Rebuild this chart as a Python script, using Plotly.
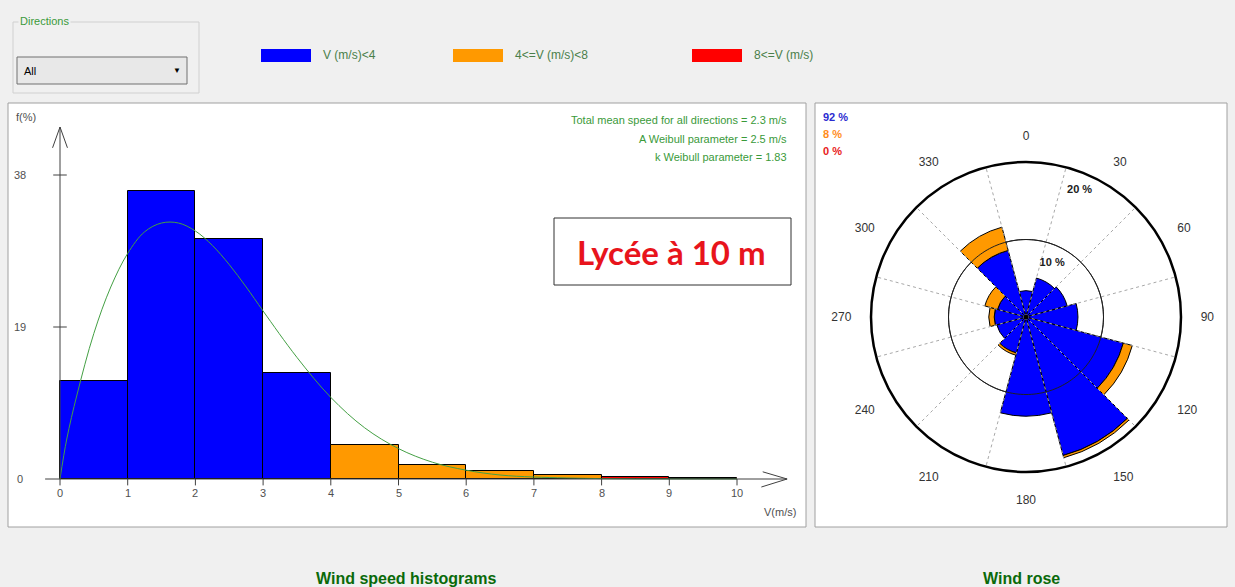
import plotly.graph_objects as go

W, H = 1235, 587
def X(px): return px / W
def Y(py): return 1 - py / H

# ---------------- data ----------------
speed_bins = [0.5, 1.5, 2.5, 3.5, 4.5, 5.5, 6.5, 7.5, 8.5, 9.5]
speed_freq = [12.2, 36.0, 30.0, 13.3, 4.3, 1.8, 1.0, 0.55, 0.2, 0.1]
speed_cls = [0, 0, 0, 0, 1, 1, 1, 1, 2, 2]
curve_v = [0, 0.1, 0.25, 0.5, 0.75, 1, 1.25, 1.5, 1.75, 2, 2.25, 2.5, 2.75, 3,
           3.5, 4, 4.5, 5, 5.5, 6, 6.5, 7, 8, 9, 10]
curve_f = [0, 5.0, 10.5, 18.2, 24.0, 28.2, 30.9, 32.0, 32.0, 31.0, 29.2, 26.8,
           24.0, 21.0, 15.2, 10.2, 6.4, 3.8, 2.1, 1.1, 0.5, 0.25, 0.05, 0.01, 0.0]
x_ticks = list(range(0, 11))
y_ticks = [0, 19, 38]

directions = [0, 30, 60, 90, 120, 150, 180, 210, 240, 270, 300, 330]
rose_low = [3.4, 5.2, 5.5, 6.7, 13.0, 18.5, 12.8, 4.8, 3.9, 4.1, 3.8, 8.9]
rose_mid = [0.0, 0.0, 0.0, 0.0, 1.2, 0.3, 0.0, 0.3, 0.0, 0.7, 1.7, 3.1]
rose_high = [0.0] * 12
rose_rings = [10, 20]
class_share = ["92 %", "8 %", "0 %"]

class_names = ["V (m/s)<4", "4<=V (m/s)<8", "8<=V (m/s)"]
class_colors = ["#0000ff", "#ff9900", "#ff0000"]
label_colors = ["#2a2ad0", "#ff8c1a", "#e82020"]

FONT = "Liberation Sans, Arial, sans-serif"
GREEN = "#3a9a3a"
TXT = "#505050"

fig = go.Figure()

# ---------------- histogram ----------------
fig.add_trace(go.Bar(
    x=speed_bins, y=speed_freq, width=[1] * len(speed_bins),
    marker=dict(color=[class_colors[c] for c in speed_cls],
                line=dict(color="black", width=1)),
    xaxis="x", yaxis="y", showlegend=False, hoverinfo="x+y"))
fig.add_trace(go.Scatter(
    x=curve_v, y=curve_f, mode="lines",
    line=dict(color="#44a044", width=1, shape="spline"),
    xaxis="x", yaxis="y", showlegend=False))

shapes = []
annotations = []

def ptext(px, py, text, size=11, color=TXT, anchor="center", family=FONT, **kw):
    annotations.append(dict(x=X(px), y=Y(py), xref="paper", yref="paper", text=text,
                            showarrow=False, xanchor=anchor, yanchor="middle",
                            font=dict(family=family, size=size, color=color), **kw))

# axis lines and arrows (data coords)
ytop, xend = 44, 10.74
axis_col = "#404040"
def dline(x0, y0, x1, y1, w=1, col=axis_col):
    shapes.append(dict(type="line", xref="x", yref="y", x0=x0, y0=y0, x1=x1, y1=y1,
                       line=dict(color=col, width=w)))
dline(0, 0, 0, ytop)
dline(0, ytop, -0.11, ytop - 2.6)
dline(0, ytop, 0.11, ytop - 2.6)
dline(-0.22, 0, xend, 0)
dline(xend, 0, xend - 0.36, 0.9)
dline(xend, 0, xend - 0.38, -1.0)
for t in y_ticks[1:]:
    dline(-0.1, t, 0.1, t)
for t in x_ticks:
    dline(t, 0, t, -0.8)

for t in x_ticks:
    annotations.append(dict(x=t, y=0, xref="x", yref="y", text=str(t), showarrow=False,
                            yshift=-14, xanchor="center", yanchor="middle",
                            font=dict(family=FONT, size=11, color=TXT)))
for t in y_ticks:
    annotations.append(dict(x=0, y=t, xref="x", yref="y", text=str(t), showarrow=False,
                            xshift=-40, xanchor="center", yanchor="middle",
                            font=dict(family=FONT, size=11, color=TXT)))
ptext(14, 117, "f(%)", anchor="left")
ptext(798, 512, "V(m/s)", anchor="right")
for i, s in enumerate(["Total mean speed for all directions = 2.3 m/s",
                       "A Weibull parameter = 2.5 m/s",
                       "k Weibull parameter = 1.83"]):
    ptext(789, 120 + 18.5 * i, s, color=GREEN, anchor="right")

# Lycée box
shapes.append(dict(type="rect", xref="paper", yref="paper", x0=X(554), x1=X(791),
                   y0=Y(285), y1=Y(218), line=dict(color="#303030", width=1),
                   fillcolor="white"))
ptext(671, 252, "<b>Lycée à 10 m</b>", size=33, color="#e8141c",
      family="Lato, Carlito, sans-serif")

# panels
shapes.append(dict(type="rect", xref="paper", yref="paper", x0=X(8), x1=X(806),
                   y0=Y(527), y1=Y(103), line=dict(color="#a0a0a0", width=1)))
shapes.append(dict(type="rect", xref="paper", yref="paper", x0=X(815), x1=X(1227),
                   y0=Y(527), y1=Y(103), line=dict(color="#a0a0a0", width=1),
                   fillcolor="white", layer="below"))

# ---------------- wind rose ----------------
grid_theta, grid_r = [], []
for d in directions:
    grid_theta += [d + 15, d + 15, None]
    grid_r += [0, rose_rings[-1], None]
fig.add_trace(go.Scatterpolar(r=grid_r, theta=grid_theta, mode="lines",
                              line=dict(color="#a8a8a8", width=1, dash="dot"),
                              showlegend=False, hoverinfo="skip", connectgaps=False))
for vals, col in zip([rose_low, rose_mid, rose_high], class_colors):
    fig.add_trace(go.Barpolar(r=vals, theta=directions, width=[30] * len(directions),
                              marker=dict(color=col,
                                          line=dict(color="black", width=1 if max(vals) > 0 else 0)),
                              showlegend=False))
ring_theta = list(range(0, 361, 2))
fig.add_trace(go.Scatterpolar(r=[rose_rings[0]] * len(ring_theta), theta=ring_theta,
                              mode="lines", line=dict(color="#202020", width=1),
                              showlegend=False, hoverinfo="skip"))
fig.add_trace(go.Scatterpolar(r=[0], theta=[0], mode="markers",
                              marker=dict(color="black", size=5), showlegend=False))
fig.add_trace(go.Scatterpolar(r=[t - 2.3 for t in rose_rings], theta=[26, 23], mode="text",
                              text=["<b>%d %%</b>" % t for t in rose_rings],
                              textfont=dict(family=FONT, size=11, color="#202020"),
                              showlegend=False))

for i, (s, c) in enumerate(zip(class_share, label_colors)):
    ptext(821, 117 + 17 * i, "<b>%s</b>" % s, color=c, anchor="left")

# ---------------- header ----------------
shapes.append(dict(type="rect", xref="paper", yref="paper", x0=X(13), x1=X(199),
                   y0=Y(93), y1=Y(22), line=dict(color="#d0d0d0", width=1)))
ptext(18, 21, "Directions", color=GREEN, anchor="left", bgcolor="#f0f0f0")
shapes.append(dict(type="rect", xref="paper", yref="paper", x0=X(17), x1=X(187),
                   y0=Y(84), y1=Y(57), line=dict(color="#707070", width=1),
                   fillcolor="#e8e8e8"))
ptext(22, 71, "All", color="black", anchor="left")
ptext(177, 71, "▼", size=8, color="black")

leg_x = [261, 453, 692]
for lx, name, col in zip(leg_x, class_names, class_colors):
    shapes.append(dict(type="rect", xref="paper", yref="paper", x0=X(lx), x1=X(lx + 50),
                       y0=Y(62), y1=Y(49), line=dict(width=0), fillcolor=col))
    ptext(lx + 60, 55, name, size=12, color="#4a7f4a", anchor="left")

ptext(406, 578, "<b>Wind speed histograms</b>", size=16, color="#0a6a0a")
ptext(1021, 578, "<b>Wind rose</b>", size=16, color="#0a6a0a")

fig.update_layout(
    width=W, height=H, margin=dict(l=0, r=0, t=0, b=0),
    paper_bgcolor="#f0f0f0", plot_bgcolor="white",
    xaxis=dict(domain=[X(8), X(806)], range=[(8 - 60) / 67.7, (806 - 60) / 67.7],
               visible=False, fixedrange=True),
    yaxis=dict(domain=[Y(527), Y(103)], range=[(479 - 527) / 8, (479 - 103) / 8],
               visible=False, fixedrange=True),
    bargap=0,
    polar=dict(
        domain=dict(x=[X(871), X(1181)], y=[Y(472), Y(162)]),
        bgcolor="white", barmode="stack",
        radialaxis=dict(range=[0, rose_rings[-1]], tickvals=rose_rings, showticklabels=False,
                        ticks="", showline=False, gridcolor="#202020", gridwidth=1),
        angularaxis=dict(direction="clockwise", rotation=90, tickvals=directions,
                         ticktext=[str(d) for d in directions], showgrid=False,
                         showline=True, linecolor="black", linewidth=2.5,
                         ticks="outside", ticklen=16, tickcolor="rgba(0,0,0,0)",
                         tickfont=dict(family=FONT, size=12, color="#333333"),
                         layer="above traces"),
    ),
    shapes=shapes, annotations=annotations,
)

fig.write_html("out.html", config={"displayModeBar": False},
               post_script="document.body.style.margin='0';document.body.style.overflow='hidden';")
